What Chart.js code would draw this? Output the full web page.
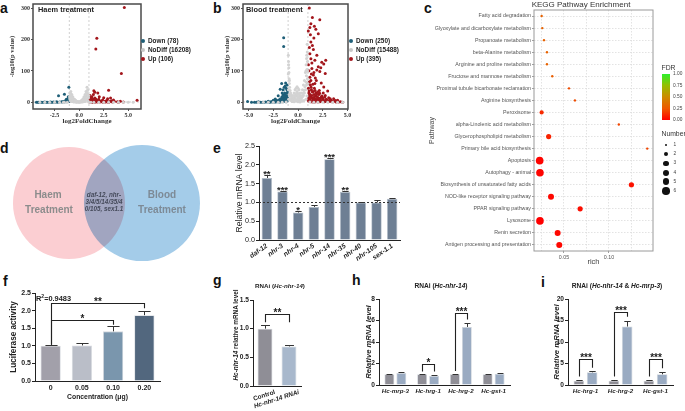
<!DOCTYPE html>
<html><head><meta charset="utf-8"><title>Figure</title>
<script src="https://cdn.jsdelivr.net/npm/chart.js@4.4.1/dist/chart.umd.min.js"></script>
<style>
html,body{margin:0;padding:0;background:#fff;overflow:hidden}
#wrap{position:relative;width:685px;height:411px;overflow:hidden;font-family:'Liberation Sans',Arial,sans-serif;color:#222}
#wrap canvas{position:absolute}
.t{position:absolute;white-space:nowrap;line-height:1}
.pl{font-weight:bold;font-size:14px;line-height:14px;color:#111}
</style></head><body><div id="wrap"></div>
<script>
// ================= DATA =================
// a / b : volcano plots  [log2FoldChange, -log10(p)]
const volcanoXTicks=[-5,-2.5,0,2.5,5];
const volcanoYTicks=[0,100,200,300];
const fcCut=[-1,1];
const pCut=[1.3];
const haemLegend=['Down (78)','NoDiff (16208)','Up (106)'];
const bloodLegend=['Down (250)','NoDiff (15488)','Up (395)'];
const haemUp=[[4.6,302],[1.8,204],[1.7,170],[4.3,92],[3.0,39],[1.5,37],[1.6,32],[1.9,30],[2.5,15],[5.9,7],[3.2,14],[2.9,12],[1.45,25],[2.05,18],[1.1,22],[1.3,18],[1.2,12],[1.4,9],[1.6,14],[1.8,6],[2.0,10],[2.2,4],[2.4,8],[2.6,3],[2.8,6],[3.1,2],[3.3,5],[3.6,3],[3.9,2],[4.2,4],[4.5,1],[1.05,5],[1.15,3],[1.25,7],[1.35,2],[1.5,4],[1.7,2],[1.9,3],[2.1,1],[2.3,2],[2.7,1],[3.4,1],[4.0,0.5],[1.1,1],[1.3,0.5],[3.5,8],[1.55,0.5],[1.85,1],[2.45,0.5],[3.0,0.5],[1.02,2],[1.08,9],[1.18,4],[1.22,15],[1.28,1],[1.38,11],[1.42,5],[1.58,8],[1.62,2],[1.72,10],[1.78,4],[1.95,6],[2.15,3],[2.35,5],[2.55,2],[2.75,4],[2.95,1],[3.2,3]];
const haemDown=[[-1.05,48],[-1.5,26],[-2.1,21],[-1.1,18],[-1.3,10],[-1.15,12],[-1.35,7],[-1.2,6],[-1.4,4],[-1.6,3],[-1.8,2],[-2.0,1],[-2.3,2],[-2.6,1],[-2.9,1],[-3.2,0.5],[-3.5,1],[-3.8,0.5],[-4.1,0.5],[-4.35,0.3],[-1.1,3],[-1.25,2],[-1.5,1],[-1.7,1],[-2.2,0.5],[-2.45,0.5],[-2.75,0.3],[-3.0,0.3],[-3.35,0.3],[-3.65,0.3],[-3.95,0.3],[-4.2,0.3],[-1.05,8],[-1.02,4]];
const haemNoDiff=[[-0.95,30],[-0.9,22],[-0.85,35],[-0.8,15],[-0.75,25],[-0.7,10],[-0.65,18],[-0.6,8],[-0.55,12],[-0.5,5],[-0.45,9],[-0.4,3],[-0.35,6],[-0.3,2],[-0.25,4],[-0.2,1],[-0.15,3],[-0.1,1],[-0.05,2],[0,0.5],[0.05,1],[0.1,3],[0.15,2],[0.2,5],[0.25,3],[0.3,8],[0.35,4],[0.4,12],[0.45,6],[0.5,18],[0.55,9],[0.6,25],[0.65,14],[0.7,35],[0.75,20],[0.8,48],[0.85,28],[0.9,40],[0.95,15],[0.98,22],[-0.98,18],[-0.92,12],[-0.6,2],[-0.3,0.5],[0.3,1],[0.6,3],[0.9,5],[1.2,0.5],[1.5,0.3],[2.0,0.3],[2.5,0.3],[3.0,0.2],[3.5,0.2],[4.0,0.2],[4.5,0.2],[5.0,0.2],[5.5,0.2],[-1.2,0.3],[-1.6,0.2],[-2.0,0.2],[-0.9,6],[-0.8,4],[-0.7,3],[-0.5,1],[-0.4,7],[-0.2,2],[0.1,1],[0.2,2],[0.4,2],[0.5,3],[0.6,7],[0.7,10],[0.8,12],[0.85,38],[0.75,30],[0.65,22],[0.55,15],[0.45,10],[-0.95,12],[-0.88,28],[-0.78,20],[-0.68,14],[-1.5,0.3],[-2.5,0.2],[-3.0,0.2],[-3.5,0.2],[-4.0,0.2],[1.0,0.5]];
const bloodUp=[[1.14,300],[1.45,270],[2.2,263],[1.3,250],[1.65,242],[1.2,238],[1.8,233],[2.05,218],[1.04,227],[1.3,192],[1.45,181],[1.55,168],[1.2,155],[1.3,139],[1.7,134],[2.4,128],[2.8,134],[2.6,122],[2.05,113],[1.4,108],[1.9,103],[1.1,101],[2.2,98],[2.75,92],[1.55,87],[1.3,70],[1.7,60],[2.6,49],[2.15,38],[3.0,36],[1.45,33],[2.75,22],[3.6,12],[4.0,7],[4.3,2],[1.05,45],[1.1,30],[1.15,20],[1.2,10],[1.25,55],[1.35,40],[1.4,15],[1.5,5],[1.6,25],[1.65,45],[1.75,12],[1.8,30],[1.85,3],[1.95,18],[2.0,8],[2.1,25],[2.25,14],[2.3,4],[2.4,20],[2.5,9],[2.55,30],[2.65,2],[2.85,10],[2.95,5],[3.1,15],[3.2,3],[3.3,8],[3.45,2],[3.7,4],[3.85,1],[1.1,4],[1.3,2],[1.55,1],[1.7,3],[2.0,1],[2.2,2],[1.2,80],[1.6,95],[1.05,120],[1.4,125],[1.15,175],[1.9,150],[2.3,110],[1.75,78],[1.0,60],[1.25,215],[1.6,205],[1.02,8],[1.08,14],[1.12,36],[1.18,26],[1.22,3],[1.28,17],[1.32,48],[1.38,22],[1.42,2],[1.48,12],[1.52,35],[1.58,7],[1.62,16],[1.68,1],[1.72,38],[1.78,21],[1.82,9],[1.88,27],[1.92,5],[1.98,33],[2.02,14],[2.08,4],[2.12,11],[2.18,29],[2.28,7],[2.35,16],[2.45,3],[2.52,13],[2.6,6],[2.7,18],[2.8,3],[2.9,8],[3.05,2],[3.15,6],[3.25,12],[3.4,5],[3.55,2],[3.8,6],[4.1,1],[4.5,0.5],[1.15,65],[1.35,90],[1.5,58],[1.85,70],[2.35,62]];
const bloodDown=[[-1.45,206],[-1.45,178],[-1.65,60],[-1.3,52],[-1.8,42],[-1.2,45],[-1.1,31],[-1.5,24],[-2.0,21],[-2.3,11],[-2.5,7],[-3.0,4],[-4.0,2],[-5.1,3],[-4.4,0.5],[-1.05,38],[-1.15,20],[-1.25,12],[-1.35,30],[-1.4,8],[-1.55,15],[-1.6,4],[-1.7,10],[-1.75,2],[-1.85,6],[-1.9,1],[-2.1,3],[-2.2,7],[-2.4,1],[-2.6,2],[-2.8,1],[-3.3,1],[-3.6,0.5],[-4.7,0.5],[-1.1,5],[-1.2,2],[-1.3,25],[-1.5,40],[-1.6,30],[-1.05,15],[-1.02,25],[-1.08,10],[-1.12,40],[-1.18,7],[-1.22,18],[-1.28,3],[-1.32,14],[-1.38,20],[-1.42,5],[-1.48,11],[-1.52,2],[-1.58,9],[-1.62,18],[-1.68,3],[-1.72,6],[-1.78,12],[-1.82,2],[-1.88,4],[-1.95,8],[-2.05,2],[-2.15,5],[-2.25,1],[-2.35,3],[-2.55,1],[-2.7,2],[-2.9,0.5],[-3.1,1],[-3.45,0.5],[-3.8,0.5],[-4.2,0.3],[-1.1,55],[-1.25,62],[-1.4,48]];
const bloodNoDiff=[[-0.98,150],[-0.95,120],[-0.92,95],[-0.9,75],[-0.88,60],[-0.85,48],[-0.8,38],[-0.75,30],[-0.7,24],[-0.65,18],[-0.6,14],[-0.55,10],[-0.5,22],[-0.45,8],[-0.4,30],[-0.35,15],[-0.3,40],[-0.25,25],[-0.2,45],[-0.15,20],[-0.1,35],[-0.05,12],[0,28],[0.05,8],[0.1,18],[0.15,5],[0.2,12],[0.25,22],[0.3,15],[0.35,30],[0.4,20],[0.45,40],[0.5,28],[0.55,55],[0.6,38],[0.65,70],[0.7,50],[0.75,95],[0.8,65],[0.82,120],[0.85,85],[0.88,150],[0.9,105],[0.92,185],[0.95,130],[0.98,60],[-0.97,40],[-0.9,25],[-0.8,8],[-0.6,3],[-0.4,2],[-0.2,5],[0,2],[0.2,1],[0.4,4],[0.6,6],[0.8,10],[0.9,20],[-1.2,1],[-1.6,0.5],[-2.0,0.5],[-2.5,0.3],[-3.0,0.3],[-3.5,0.3],[-4.0,0.2],[1.2,1],[1.6,0.5],[2.0,0.5],[2.5,0.3],[3.0,0.3],[3.5,0.2],[4.0,0.2],[4.5,0.2],[-0.95,10],[-0.85,20],[-0.75,12],[-0.65,5],[-0.55,3],[-0.45,15],[-0.35,7],[-0.25,10],[-0.15,30],[-0.05,18],[0.05,25],[0.15,14],[0.25,8],[0.35,12],[0.45,18],[0.55,22],[0.65,30],[0.75,40],[0.85,55],[0.95,75],[0.97,100],[0.93,160],[0.86,140],[0.8,100],[-0.96,130],[-0.93,110],[-0.99,90],[-0.87,70],[0.1,40],[-0.1,50],[0,45],[0.2,30],[-0.3,20]];

// c : KEGG enrichment
const pathways=['Fatty acid degradation','Glyoxylate and dicarboxylate metabolism','Propanoate metabolism','beta-Alanine metabolism','Arginine and proline metabolism','Fructose and mannose metabolism','Proximal tubule bicarbonate reclamation','Arginine biosynthesis','Peroxisome','alpha-Linolenic acid metabolism','Glycerophospholipid metabolism','Primary bile acid biosynthesis','Apoptosis','Autophagy - animal','Biosynthesis of unsaturated fatty acids','NOD-like receptor signaling pathway','PPAR signaling pathway','Lysosome','Renin secretion','Antigen processing and presentation'];
const rich=[0.0252,0.0259,0.0278,0.0311,0.0311,0.037,0.0556,0.0622,0.0252,0.111,0.033,0.1426,0.023,0.0233,0.125,0.0356,0.068,0.0233,0.043,0.0448];
const geneNumber=[1,1,1,1,1,1,1,1,2,1,3,1,6,6,3,4,3,6,4,4];
const fdr=[0.3,0.3,0.3,0.3,0.3,0.28,0.22,0.22,0.12,0.2,0.1,0.2,0.01,0.01,0.05,0.02,0.04,0.0,0.02,0.02];
const keggXTicks=[0.025,0.05,0.075,0.1,0.125];
const keggXLabels=['','0.05','','0.10',''];
const fdrLegend=['1.00','0.75','0.50','0.25','0.00'];
const numberLegend=[1,2,3,4,5,6];

// d : Venn
const vennSets=['Haem Treatment','Blood Treatment'];
const vennSharedLines=['daf-12, nhr-','3/4/5/14/35/4','0/105, sex1.1'];

// e : qPCR
const eGenes=['daf-12','nhr-3','nhr-4','nhr-5','nhr-14','nhr-35','nhr-40','nhr-105','sex-1.1'];
const eValues=[1.65,1.29,0.73,0.88,2.15,1.28,1.00,1.00,1.10];
const eErrors=[0.08,0.02,0.05,0.05,0.03,0.03,0.01,0.07,0.02];
const eStars=['**','***','*','','***','**','','',''];
const eYTicks=[0,0.5,1,1.5,2,2.5];
const eYLabels=['0.0','0.5','1.0','1.5','2.0','2.5'];
const eReference=1.0;

// f : luciferase
const fConc=['0','0.05','0.10','0.20'];
const fValues=[1.0,1.01,1.41,1.87];
const fErrors=[0.01,0.08,0.14,0.11];
const fYTicks=[0,0.5,1,1.5,2,2.5];
const fYLabels=['0.0','0.5','1.0','1.5','2.0','2.5'];
const fR2='0.9483';
const fBrackets=[{from:[0,0],to:[0,2],y:1.74,y1:1.03,y2:1.6,text:'*'},{from:[0,0],to:[0,3],y:2.22,y1:1.03,y2:2.07,text:'**'}];

// g : RNAi nhr-14
const gGroups=['Control','Hc-nhr-14 RNAi'];
const gValues=[1.0,0.69];
const gErrors=[0.06,0.02];
const gYTicks=[0,0.5,1,1.5];
const gYLabels=['0.0','0.5','1.0','1.5'];
const gBrackets=[{from:[0,0],to:[0,1],y:1.26,y1:1.11,y2:1.11,text:'**'}];

// h : RNAi nhr-14 targets
const hGenes=['Hc-mrp-3','Hc-hrg-1','Hc-hrg-2','Hc-gst-1'];
const hControl=[1,1,1,1];
const hControlErr=[0.02,0.02,0.03,0.02];
const hRNAi=[1.12,0.85,5.4,1.05];
const hRNAiErr=[0.05,0.04,0.4,0.08];
const hYTicks=[0,2,4,6,8];
const hYLabels=['0','2','4','6','8'];
const hBrackets=[{from:[0,1],to:[1,1],y:1.93,y1:1.25,y2:1.25,text:'*'},{from:[0,2],to:[1,2],y:6.67,y1:1.3,y2:6.1,text:'***'}];

// i : RNAi nhr-14 & mrp-3
const iGenes=['Hc-hrg-1','Hc-hrg-2','Hc-gst-1'];
const iControl=[1,1,1];
const iControlErr=[0.05,0.05,0.05];
const iRNAi=[2.95,13.6,2.5];
const iRNAiErr=[0.25,1.35,0.5];
const iYTicks=[0,5,10,15,20];
const iYLabels=['0','5','10','15','20'];
const iBrackets=[{from:[0,0],to:[1,0],y:6.0,y1:2.0,y2:4.0,text:'***'},{from:[0,1],to:[1,1],y:17.0,y1:2.0,y2:15.9,text:'***'},{from:[0,2],to:[1,2],y:6.0,y1:2.0,y2:3.9,text:'***'}];

// ================= RENDER =================
const SANS="'Liberation Sans', Arial, Helvetica, sans-serif";
const SERIF="'Liberation Serif','Times New Roman',serif";
Chart.defaults.font.family=SANS;
Chart.defaults.color='#222';
Chart.defaults.animation=false;
Chart.defaults.responsive=false;
Chart.defaults.maintainAspectRatio=false;
Chart.defaults.devicePixelRatio=1;
Chart.defaults.events=[];
Chart.defaults.plugins.legend.display=false;
Chart.defaults.plugins.tooltip.enabled=false;
Chart.defaults.layout.autoPadding=false;

const wrap=document.getElementById('wrap');
function mk(l,t,w,h){const c=document.createElement('canvas');c.width=w;c.height=h;c.style.left=l+'px';c.style.top=t+'px';c.style.width=w+'px';c.style.height=h+'px';wrap.appendChild(c);return c;}
function T(html,x,y,css,mode){const d=document.createElement('div');d.className='t';d.innerHTML=html;d.style.left=x+'px';d.style.top=y+'px';let tr='';
 if(mode==='c')tr='translate(-50%,-50%)';else if(mode==='l')tr='translateY(-50%)';else if(mode==='r')tr='translate(-100%,-50%)';else if(mode==='v')tr='translate(-50%,-50%) rotate(-90deg)';
 d.style.transform=tr;if(css)d.style.cssText+=';'+css;wrap.appendChild(d);return d;}
function zeroPad(s){s.paddingTop=0;s.paddingBottom=0;s.paddingLeft=0;s.paddingRight=0;}
function fixW(w){return s=>{s.width=w;zeroPad(s);};}
function fixH(h){return s=>{s.height=h;zeroPad(s);};}
function tickArr(arr){return s=>{s.ticks=arr.filter(v=>v>=s.min-1e-9&&v<=s.max+1e-9).map(v=>({value:v}));};}

const boxPlugin=(color,w)=>({id:'box',afterDraw(ch){const a=ch.chartArea,c=ch.ctx;c.save();c.strokeStyle=color;c.lineWidth=w;c.strokeRect(a.left,a.top,a.right-a.left,a.bottom-a.top);c.restore();}});
const threshPlugin={id:'thresh',beforeDatasetsDraw(ch,a,o){const c=ch.ctx,A=ch.chartArea,xs=ch.scales.x,ys=ch.scales.y;c.save();c.strokeStyle='#c4c4c4';c.lineWidth=0.8;c.setLineDash([2,2]);c.beginPath();
 (o.vx||[]).forEach(v=>{const x=xs.getPixelForValue(v);c.moveTo(x,A.top);c.lineTo(x,A.bottom);});
 (o.hy||[]).forEach(v=>{const y=ys.getPixelForValue(v);c.moveTo(A.left,y);c.lineTo(A.right,y);});c.stroke();c.restore();}};
const errPlugin={id:'errbars',afterDatasetsDraw(ch){const c=ch.ctx,ys=ch.scales.y;
 ch.data.datasets.forEach((ds,i)=>{if(!ds.err)return;const meta=ch.getDatasetMeta(i);
  meta.data.forEach((b,j)=>{const e=ds.err[j];if(!e)return;const y0=ys.getPixelForValue(ds.data[j]),y1=Math.round(ys.getPixelForValue(ds.data[j]+e))+0.5;const x=Math.round(b.x)+0.5;const hw=b.width*0.3;
   c.save();c.strokeStyle='#333';c.lineWidth=1;c.beginPath();c.moveTo(x,y0);c.lineTo(x,y1);c.moveTo(x-hw,y1);c.lineTo(x+hw,y1);c.stroke();c.restore();});});}};
const bracketPlugin={id:'brackets',afterDatasetsDraw(ch,a,o){if(!o.items)return;const c=ch.ctx,ys=ch.scales.y;
 o.items.forEach(it=>{const b1=ch.getDatasetMeta(it.from[0]).data[it.from[1]],b2=ch.getDatasetMeta(it.to[0]).data[it.to[1]];
  const x1=Math.round(b1.x)+0.5,x2=Math.round(b2.x)+0.5,y=Math.round(ys.getPixelForValue(it.y))+0.5,ya=ys.getPixelForValue(it.y1),yb=ys.getPixelForValue(it.y2);
  c.save();c.strokeStyle='#222';c.lineWidth=1.1;c.beginPath();c.moveTo(x1,ya);c.lineTo(x1,y);c.lineTo(x2,y);c.lineTo(x2,yb);c.stroke();
  c.fillStyle='#222';c.font=o.font||('bold 10px '+SANS);c.textAlign='center';c.textBaseline='alphabetic';c.fillText(it.text,(x1+x2)/2,y+(o.dy||1));c.restore();});}};
const starPlugin={id:'stars',afterDatasetsDraw(ch,a,o){if(!o.labels)return;const c=ch.ctx,ys=ch.scales.y,ds=ch.data.datasets[0],meta=ch.getDatasetMeta(0);
 c.save();c.fillStyle='#222';c.font=o.font;c.textAlign='center';c.textBaseline='alphabetic';
 meta.data.forEach((b,j)=>{const t=o.labels[j];if(!t)return;const y=ys.getPixelForValue(ds.data[j]+(ds.err?ds.err[j]:0));c.fillText(t,b.x,y+(o.dy||2));});c.restore();}};
const refPlugin={id:'ref',afterDatasetsDraw(ch,a,o){if(o.value==null)return;const c=ch.ctx,A=ch.chartArea,y=Math.round(ch.scales.y.getPixelForValue(o.value))+0.5;
 c.save();c.strokeStyle='#333';c.lineWidth=1;c.setLineDash([2,2]);c.beginPath();c.moveTo(A.left,y);c.lineTo(A.right,y);c.stroke();c.restore();}};
const rotLabelPlugin={id:'rotlabels',afterDraw(ch,a,o){if(!o.labels)return;const c=ch.ctx,xs=ch.scales.x;c.save();c.fillStyle='#222';c.textAlign='right';c.textBaseline='middle';
 o.labels.forEach((s,i)=>{c.font=o.fonts[i];const x=xs.getPixelForTick(i)+o.dx,y=ch.chartArea.bottom+o.dy;c.save();c.translate(x,y);c.rotate(-o.angle*Math.PI/180);c.fillText(s,0,0);c.restore();});c.restore();}};
const multiplyPlugin={id:'multiply',beforeDatasetsDraw(ch){ch.ctx.save();ch.ctx.globalCompositeOperation='multiply';},afterDatasetsDraw(ch){ch.ctx.restore();}};

// ---------- panel letters ----------
[['a',0,13],['b',213,13],['c',424,13],['d',0,153],['e',213,153],['f',3,286],['g',213,285],['h',352,285],['i',541,287]].forEach(p=>T(p[0],p[1],p[2]-11.85,null,null).classList.add('pl'));

// ---------- a / b volcano ----------
function volcano(canvas,up,down,nodiff,xmin,xmax,pad,yW,xH){
 const pts=a=>a.map(p=>({x:p[0],y:p[1]}));
 const tf={family:SERIF,size:6,weight:'bold'};
 return new Chart(canvas,{type:'scatter',
  data:{datasets:[
   {data:pts(nodiff),pointRadius:1.5,pointBackgroundColor:'#d3d3d3',pointBorderWidth:0},
   {data:pts(down),pointRadius:1.5,pointBackgroundColor:'#1f5f78',pointBorderWidth:0},
   {data:pts(up),pointRadius:1.5,pointBackgroundColor:'#a3161c',pointBorderWidth:0}]},
  options:{layout:{padding:pad},plugins:{thresh:{vx:fcCut,hy:pCut}},
   scales:{
    x:{type:'linear',min:xmin,max:xmax,afterBuildTicks:tickArr(volcanoXTicks),afterFit:fixH(xH),
     ticks:{font:tf,color:'#333',padding:1,callback:v=>v.toFixed(1)},
     grid:{display:true,drawOnChartArea:false,drawTicks:true,tickLength:2,tickColor:'#555'},border:{display:false},
     title:{display:true,text:'log2FoldChange',font:{family:SERIF,size:7,weight:'bold'},color:'#333',padding:0}},
    y:{type:'linear',min:-21,max:313,afterBuildTicks:tickArr(volcanoYTicks),afterFit:fixW(yW),
     ticks:{font:tf,color:'#333',padding:1,callback:v=>String(v)},
     grid:{display:true,drawOnChartArea:false,drawTicks:true,tickLength:2,tickColor:'#555'},border:{display:false},
     title:{display:true,text:'-log10(p value)',font:{family:SERIF,size:6.5,weight:'bold'},color:'#333',padding:0}}}},
  plugins:[threshPlugin,boxPlugin('#4a4a4a',1.5)]});
}
volcano(mk(0,0,215,135),haemUp,haemDown,haemNoDiff,-4.7,6.3,{left:8,top:4,right:74,bottom:10},25,16);
volcano(mk(213,0,212,135),bloodUp,bloodDown,bloodNoDiff,-5.56,5.05,{left:10,top:4,right:77,bottom:10},20,16);
T('Haem treatment',38,10,'font-weight:bold;font-size:7.4px;color:#222','l');
T('Blood treatment',246,10,'font-weight:bold;font-size:7.4px;color:#222','l');
const legCols=['#1f5f78','#c8c8c8','#a3161c'];
const legY=[40.7,49.5,59];
function volLegend(x,labels){labels.forEach((s,i)=>{
 const d=document.createElement('div');d.style.cssText='position:absolute;width:4px;height:4px;border-radius:50%;left:'+(x-2)+'px;top:'+(legY[i]-2)+'px;background:'+legCols[i];wrap.appendChild(d);
 T(s,x+5.5,legY[i],'font-weight:bold;font-size:6.4px;color:#222','l');});}
volLegend(142.5,haemLegend);
volLegend(350.5,bloodLegend);

// ---------- c KEGG ----------
const fdrStops=[[0,[255,0,0]],[0.25,[238,88,0]],[0.5,[205,138,0]],[0.75,[150,190,0]],[1,[45,240,45]]];
function fdrColor(v){for(let i=1;i<fdrStops.length;i++){if(v<=fdrStops[i][0]){const a=fdrStops[i-1],b=fdrStops[i],t=(v-a[0])/(b[0]-a[0]);const c=a[1].map((x,k)=>Math.round(x+(b[1][k]-x)*t));return 'rgb('+c.join(',')+')';}}return 'rgb(45,240,45)';}
const numR={1:1.2,2:2.1,3:2.6,4:3.0,5:3.4,6:3.8};
new Chart(mk(425,0,260,270),{type:'scatter',
 data:{datasets:[{data:rich.map((r,i)=>({x:r,y:pathways[i]})),pointRadius:geneNumber.map(n=>numR[n]),pointBackgroundColor:fdr.map(fdrColor),pointBorderWidth:0}]},
 options:{layout:{padding:{left:3,top:10,right:32,bottom:4}},
  scales:{
   x:{type:'linear',min:0.0167,max:0.149,afterBuildTicks:tickArr(keggXTicks),afterFit:fixH(15),
    ticks:{font:{size:5.3},color:'#555',padding:1,callback:(v,i)=>keggXLabels[keggXTicks.indexOf(v)]},
    grid:{color:'#dcdcdc',lineWidth:0.8,drawTicks:true,tickLength:2,tickColor:c=>(c.tick&&keggXLabels[keggXTicks.indexOf(c.tick.value)])?'#888':'rgba(0,0,0,0)'},
    border:{display:false,dash:[1.5,1.5]},
    title:{display:true,text:'rich',font:{size:7.5},color:'#444',padding:0}},
   y:{type:'category',labels:pathways,offset:true,afterFit:fixW(106),
    ticks:{font:{size:5.3},color:'#555',padding:1,autoSkip:false},
    grid:{color:'#dcdcdc',lineWidth:0.8,drawTicks:true,tickLength:2,tickColor:'#888'},
    border:{display:false,dash:[1.5,1.5]},
    title:{display:true,text:'Pathway',font:{size:7},color:'#444',padding:0}}}},
 plugins:[boxPlugin('#9a9a9a',1)]});
T('KEGG Pathway Enrichment',581,4.5,'font-size:8px;color:#333','c');
T('FDR',661.5,67.5,'font-size:6.8px;color:#333','l');
(function(){const d=document.createElement('div');d.style.cssText='position:absolute;left:662px;top:74px;width:8px;height:46px;background:linear-gradient(to top,'+fdrStops.map(s=>'rgb('+s[1].join(',')+') '+(s[0]*100)+'%').join(',')+')';wrap.appendChild(d);})();
fdrLegend.forEach((s,i)=>T(s,673,74.3+i*11.5,'font-size:4.8px;color:#444','l'));
T('Number',661.5,134,'font-size:6.8px;color:#333','l');
numberLegend.forEach((n,i)=>{const y=145+i*9.2,r=numR[n];const d=document.createElement('div');d.style.cssText='position:absolute;border-radius:50%;background:#111;left:'+(666-r)+'px;top:'+(y-r)+'px;width:'+(2*r)+'px;height:'+(2*r)+'px';wrap.appendChild(d);
 T(String(n),673.5,y,'font-size:4.8px;color:#444','l');});

// ---------- d Venn ----------
const vennFill=['#fbced2','#a4cce9'];
const vennRadius=[56,58];
new Chart(mk(0,140,213,130),{type:'scatter',
 data:{datasets:vennSets.map((s,i)=>({label:s,data:[{x:i,y:0}],pointRadius:vennRadius[i],pointBackgroundColor:vennFill[i],pointBorderWidth:0}))},
 options:{layout:{padding:0},scales:{x:{display:false,min:-0.945,max:1.973},y:{display:false,min:-1.03,max:0.97}}},
 plugins:[multiplyPlugin]});
const vs=vennSets.map(s=>s.split(' '));
T(vs[0][0],48,195,'font-weight:bold;font-size:10px;color:#8c8c8c','c');
T(vs[0][1],49,209.5,'font-weight:bold;font-size:10px;color:#8c8c8c','c');
T(vs[1][0],162,195,'font-weight:bold;font-size:10px;color:#7d8a96','c');
T(vs[1][1],162,209.5,'font-weight:bold;font-size:10px;color:#7d8a96','c');
vennSharedLines.forEach((s,i)=>T(s,104,194.5+i*7,'font-style:italic;font-weight:bold;font-size:6.3px;color:#454a5a','c'));

// ---------- Prism style bar factory ----------
function prism(o){
 return new Chart(o.el,{type:'bar',
  data:{labels:o.labels,datasets:o.datasets.map(d=>({data:d.values,err:d.errors,backgroundColor:d.colors,borderColor:d.border||'#d0d5dc',borderWidth:d.bw==null?0.8:d.bw,categoryPercentage:o.catPct,barPercentage:o.barPct}))},
  options:{layout:{padding:o.pad},
   plugins:{brackets:{items:o.brackets||null,font:o.starFont,dy:o.starDy},stars:{labels:o.stars||null,font:o.starFont,dy:2},ref:{value:o.ref==null?null:o.ref},rotlabels:o.rotLabels||{}},
   scales:{
    x:{type:'category',afterFit:fixH(o.xH),
     ticks:{display:!o.rotLabels,font:o.xFont,color:'#222',padding:o.xPad==null?2:o.xPad,minRotation:o.rot||0,maxRotation:o.rot||0,autoSkip:false},
     grid:{display:false,drawTicks:false},border:{display:true,color:'#222',width:1},
     title:{display:!!o.xTitle,text:o.xTitle||'',font:o.xTitleFont,color:'#222',padding:0}},
    y:{type:'linear',min:0,max:o.yTicks[o.yTicks.length-1],afterBuildTicks:tickArr(o.yTicks),afterFit:fixW(o.yW),
     ticks:{font:o.tickFont,color:'#222',padding:1,callback:(v,i)=>o.yLabels[i]},
     grid:{display:true,drawOnChartArea:false,drawTicks:true,tickLength:3,tickColor:'#222',tickWidth:1},border:{display:true,color:'#222',width:1},
     title:{display:!!o.yTitle,text:o.yTitle||'',font:o.yTitleFont,color:'#222',padding:0}}}},
  plugins:[errPlugin,bracketPlugin,starPlugin,refPlugin,rotLabelPlugin]});
}
const B7={size:7,weight:'bold'};

// e
prism({el:mk(213,135,212,135),labels:eGenes,datasets:[{values:eValues,errors:eErrors,colors:'#6e7f94',border:'#b4bec9'}],
 yTicks:eYTicks,yLabels:eYLabels,pad:{left:21,top:11,right:25,bottom:0},yW:25,xH:30,
 yTitle:'Relative mRNA level',yTitleFont:{size:8.6},tickFont:{size:7.2},
 xFont:{size:6.8,style:'italic',weight:'bold'},rot:35,catPct:0.98,barPct:0.68,stars:eStars,starFont:'bold 9.5px '+SANS,ref:eReference});

// f
prism({el:mk(0,270,200,141),labels:fConc,datasets:[{values:fValues,errors:fErrors,colors:['#a2a0aa','#babec8','#7a96ad','#52677e'],border:'#d5d8de'}],
 yTicks:fYTicks,yLabels:fYLabels,pad:{left:9,top:23,right:40,bottom:10},yW:26,xH:20,
 yTitle:'Luciferase activity',yTitleFont:{size:8.2,weight:'bold'},tickFont:B7,
 xFont:B7,xPad:3,xTitle:'Concentration (\u03bcg)',xTitleFont:{size:6.8,weight:'bold'},catPct:0.98,barPct:0.66,brackets:fBrackets,starFont:'bold 10px '+SANS,starDy:1});
T('R<sup style="font-size:5px">2</sup>='+fR2,36,297.5,'font-weight:bold;font-size:7.4px;color:#222','l');

// g
prism({el:mk(213,270,115,141),labels:gGroups,datasets:[{values:gValues,errors:gErrors,colors:['#8f8e96','#a8b8cc'],border:'#d0d5dc'}],
 yTicks:gYTicks,yLabels:gYLabels,pad:{left:0,top:30,right:27,bottom:0},yW:40,xH:25,
 tickFont:{size:6.6,weight:'bold'},catPct:1,barPct:0.62,brackets:gBrackets,starFont:'bold 10px '+SANS,starDy:1,
 rotLabels:{labels:gGroups,fonts:['bold 6.4px '+SANS,'italic bold 6.4px '+SANS],dx:10,dy:6,angle:18}});
T('<i>Hc-nhr-14</i> relative mRNA level',235.5,335,'font-weight:bold;font-size:6.4px;color:#222','v');
T('RNAi (<i>Hc-nhr-14</i>)',280,285.5,'font-weight:bold;font-size:6.2px;color:#222','c');

// h
prism({el:mk(330,270,182,141),labels:hGenes,datasets:[{values:hControl,errors:hControlErr,colors:'#8f8e96',border:'#d0d5dc'},{values:hRNAi,errors:hRNAiErr,colors:'#9aabc2',border:'#d0d5dc'}],
 yTicks:hYTicks,yLabels:hYLabels,pad:{left:34,top:29,right:2,bottom:0},yW:15,xH:26,
 yTitle:'Relative mRNA level',yTitleFont:{size:7.6,weight:'bold',style:'italic'},tickFont:{size:6.6,weight:'bold'},
 xFont:{size:6.2,weight:'bold',style:'italic'},xPad:3,catPct:0.73,barPct:0.83,brackets:hBrackets,starFont:'bold 10px '+SANS,starDy:1});
T('RNAi (<i>Hc-nhr-14</i>)',441,286,'font-weight:bold;font-size:6.6px;color:#222','c');

// i
prism({el:mk(530,270,155,141),labels:iGenes,datasets:[{values:iControl,errors:iControlErr,colors:'#8f8e96',border:'#d0d5dc'},{values:iRNAi,errors:iRNAiErr,colors:'#9aabc2',border:'#d0d5dc'}],
 yTicks:iYTicks,yLabels:iYLabels,pad:{left:22,top:29,right:12,bottom:0},yW:16,xH:26,
 yTitle:'Relative mRNA level',yTitleFont:{size:7.8,weight:'bold',style:'italic'},tickFont:{size:6.6,weight:'bold'},
 xFont:{size:6.2,weight:'bold',style:'italic'},xPad:3,catPct:0.76,barPct:0.8,brackets:iBrackets,starFont:'bold 10px '+SANS,starDy:1});
T('RNAi (<i>Hc-nhr-14</i> &amp; <i>Hc-mrp-3</i>)',617,286,'font-weight:bold;font-size:6.6px;color:#222','c');
</script></body></html>
